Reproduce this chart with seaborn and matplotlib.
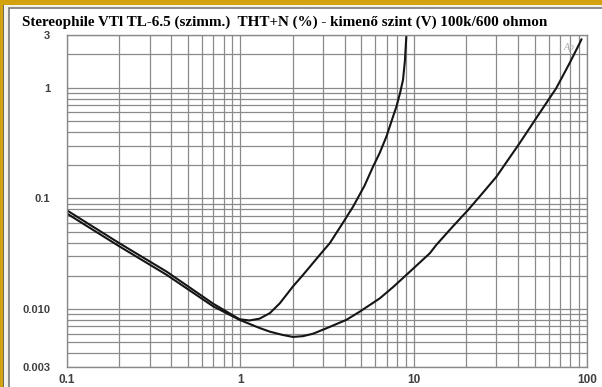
import matplotlib
matplotlib.use("Agg")
import matplotlib.pyplot as plt
import seaborn as sns
import numpy as np
import pandas as pd
from matplotlib.patches import Rectangle
from matplotlib.ticker import FixedLocator, NullFormatter, LogLocator

# ---- data ----
x_600 = [0.1, 0.2, 0.376, 0.697, 0.99, 1.13, 1.29, 1.48, 1.69, 2.01, 2.30, 3.0,
         3.28, 3.9, 4.47, 5.2, 5.83, 6.37, 6.96, 7.60, 7.95, 8.35, 8.68, 8.9, 9.08]
y_600 = [0.078, 0.0395, 0.0218, 0.0112, 0.0081, 0.0079, 0.0082, 0.0092, 0.0113,
         0.0160, 0.0204, 0.0335, 0.0394, 0.060, 0.0843, 0.130, 0.194, 0.258,
         0.362, 0.548, 0.675, 0.90, 1.18, 1.75, 3.0]

x_100k = [0.1, 0.2, 0.376, 0.697, 0.99, 1.29, 1.48, 1.75, 2.01, 2.3, 2.63, 3.2,
          4.09, 4.89, 6.37, 7.6, 9.08, 12.4, 13.5, 16.5, 20.6, 25.0, 30.0, 40.8,
          53.2, 66.4, 79.2, 90.6, 93.0]
y_100k = [0.073, 0.0370, 0.0204, 0.0106, 0.0080, 0.00676, 0.00626, 0.00585,
          0.00561, 0.00570, 0.00600, 0.00680, 0.0080, 0.0095, 0.0125, 0.0158,
          0.0204, 0.0320, 0.0380, 0.0540, 0.0787, 0.112, 0.157, 0.315, 0.589,
          0.99, 1.66, 2.52, 2.75]

xticks = [0.1, 1, 10, 100]
xtick_labels = ["0.1", "1", "10", "100"]
yticks = [0.003, 0.01, 0.1, 1, 3]
ytick_labels = ["0.003", "0.010", "0.1", "1", "3"]
title = "Stereophile VTl TL-6.5 (szimm.)  THT+N (%) - kimenő szint (V) 100k/600 ohmon"

df = pd.concat([
    pd.DataFrame({"x": x_600, "y": y_600, "load": "600"}),
    pd.DataFrame({"x": x_100k, "y": y_100k, "load": "100k"}),
])

sns.set_theme(style="white")
W, H = 602, 387
fig = plt.figure(figsize=(W / 100, H / 100), dpi=100, facecolor="white")

# frame decoration (behind the axes)
def frect(x0, y0, x1, y1, **kw):
    fig.patches.append(Rectangle((x0 / W, 1 - y1 / H), (x1 - x0) / W, (y1 - y0) / H,
                                 transform=fig.transFigure, figure=fig, zorder=-10, **kw))

frect(0, 0, W, H, facecolor="#f2f1ea", edgecolor="none")
frect(9, 8, W + 5, H + 5, facecolor="white", edgecolor="#7a7a7a", linewidth=1.2)
frect(0, 0, W, 5, facecolor="#d4a20f", edgecolor="none")
frect(0, 0, 3, H, facecolor="#d4a20f", edgecolor="none")
frect(3, 5, 4.2, H, facecolor="#6e6a5a", edgecolor="none")

ax = fig.add_axes([67 / W, 1 - 367 / H, (587 - 67) / W, (367 - 35) / H])
ax.set_facecolor("white")

sns.lineplot(data=df, x="x", y="y", hue="load", units="load", estimator=None,
             palette={"600": "#151515", "100k": "#151515"}, linewidth=1.5,
             legend=False, sort=False, ax=ax)

ax.set_xscale("log")
ax.set_yscale("log")
ax.set_xlim(0.1, 100)
ax.set_ylim(0.003, 3)

ax.xaxis.set_major_locator(FixedLocator(xticks))
ax.yaxis.set_major_locator(FixedLocator(yticks))
ax.xaxis.set_minor_locator(LogLocator(base=10, subs=np.arange(2, 10)))
ax.yaxis.set_minor_locator(LogLocator(base=10, subs=np.arange(2, 10)))
ax.xaxis.set_minor_formatter(NullFormatter())
ax.yaxis.set_minor_formatter(NullFormatter())
ax.set_xticklabels(xtick_labels)
ax.set_yticklabels(ytick_labels)

ax.grid(True, which="both", color="#8a8a8a", linewidth=0.9)
ax.set_axisbelow(True)
ax.tick_params(which="both", length=0)
ax.tick_params(axis="y", pad=12, labelsize=8, labelcolor="#404040")
ax.tick_params(axis="x", pad=5, labelsize=8.5, labelcolor="#404040")
for lab in ax.get_xticklabels() + ax.get_yticklabels():
    lab.set_fontweight("bold")
    lab.set_fontfamily("Liberation Sans")
for s in ax.spines.values():
    s.set_color("#8a8a8a")
    s.set_linewidth(1.0)
ax.set_xlabel("")
ax.set_ylabel("")

ax.text(0.965, 0.975, "Ap", transform=ax.transAxes, ha="center", va="top",
        fontsize=7, style="italic", color="#a8a8a8", family="Liberation Serif")

fig.text(22 / W, 1 - 26 / H, title, ha="left", va="baseline",
         fontsize=10.9, fontweight="bold", family="Liberation Serif", color="black")

fig.savefig("out.png", dpi=100, facecolor=fig.get_facecolor())
